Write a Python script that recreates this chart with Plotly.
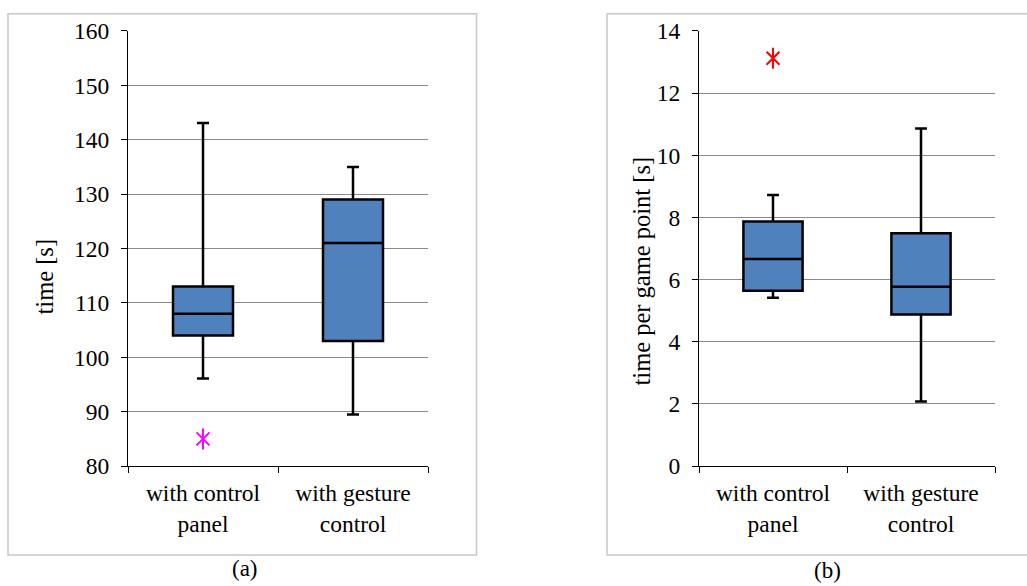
import plotly.graph_objects as go

categories = ["with control<br>panel", "with gesture<br>control"]

a_low = [96.1, 89.5]
a_q1 = [104.0, 103.0]
a_median = [108.0, 121.0]
a_q3 = [113.0, 129.0]
a_high = [143.1, 135.0]
a_outlier_cat = [categories[0]]
a_outlier_val = [85.0]

b_low = [5.42, 2.08]
b_q1 = [5.64, 4.88]
b_median = [6.66, 5.77]
b_q3 = [7.87, 7.49]
b_high = [8.72, 10.86]
b_outlier_cat = [categories[0]]
b_outlier_val = [13.12]

a_ticks = [80, 90, 100, 110, 120, 130, 140, 150, 160]
b_ticks = [0, 2, 4, 6, 8, 10, 12, 14]

FONT = "Liberation Serif, Times New Roman, serif"
W, H = 1027, 600
BOXFILL = "#4F81BD"
GRID = "#8a8a8a"

def py(r):
    # target pixel row -> paper fraction (compensating observed vertical mapping)
    d = (r - 11) / 0.9586
    return 1 - d / H

fig = go.Figure()

def add_box(xa, ya, low, q1, med, q3, high):
    fig.add_trace(go.Box(
        x=categories, q1=q1, median=med, q3=q3,
        lowerfence=low, upperfence=high,
        fillcolor=BOXFILL, line=dict(color="black", width=2.5),
        width=0.4, whiskerwidth=0.2, boxpoints=False,
        showlegend=False, hoverinfo="skip", xaxis=xa, yaxis=ya))

def add_outlier(xa, ya, cats, vals, color):
    for sym in ["x-thin-open", "line-ns-open"]:
        fig.add_trace(go.Scatter(
            x=cats, y=vals, mode="markers",
            marker=dict(symbol=sym, size=13 if sym == "x-thin-open" else 15,
                        color=color, line=dict(color=color, width=2)),
            showlegend=False, hoverinfo="skip", xaxis=xa, yaxis=ya))

add_box("x", "y", a_low, a_q1, a_median, a_q3, a_high)
add_outlier("x", "y", a_outlier_cat, a_outlier_val, "#FF00FF")
add_box("x2", "y2", b_low, b_q1, b_median, b_q3, b_high)
add_outlier("x2", "y2", b_outlier_cat, b_outlier_val, "#FF0000")

ydom = [py(465), py(29)]
tickfont = dict(family=FONT, size=23.5, color="black")

xcommon = dict(type="category", categoryorder="array", categoryarray=categories,
               range=[-0.5, 1.5], tickson="boundaries", ticks="outside",
               ticklen=6, tickcolor="black", showline=True, linecolor="black",
               linewidth=1, showgrid=False, tickfont=tickfont, fixedrange=True,
               ticklabelstandoff=6)
ycommon = dict(showline=True, linecolor="black", linewidth=1, ticks="outside",
               ticklen=6, tickcolor="black", showgrid=True, gridcolor=GRID,
               gridwidth=1, zeroline=False, tickfont=tickfont,
               ticklabelstandoff=7, fixedrange=True)

fig.update_layout(
    width=W, height=H,
    margin=dict(l=0, r=0, t=0, b=0),
    paper_bgcolor="white", plot_bgcolor="white",
    showlegend=False,
    xaxis=dict(domain=[128 / W, 428 / W], anchor="y", **xcommon),
    yaxis=dict(domain=ydom, anchor="x", range=[80, 160], tickvals=a_ticks, **ycommon),
    xaxis2=dict(domain=[699 / W, 995 / W], anchor="y2", **xcommon),
    yaxis2=dict(domain=ydom, anchor="x2", range=[0, 14], tickvals=b_ticks, **ycommon),
)

top_b = min(py(6.3), 1 - 0.8 / H)
fig.add_shape(type="rect", xref="paper", yref="paper",
              x0=8 / W, x1=476.5 / W, y0=py(554), y1=top_b,
              line=dict(color="#c8c8c8", width=1.5), layer="below")
fig.add_shape(type="rect", xref="paper", yref="paper",
              x0=607 / W, x1=1040 / W, y0=py(554), y1=top_b,
              line=dict(color="#c8c8c8", width=1.5), layer="below")

titlefont = dict(family=FONT, size=24.5, color="black")
capfont = dict(family=FONT, size=23, color="black")
fig.add_annotation(text="time [s]", textangle=-90, xref="paper", yref="paper",
                   x=44 / W, y=py(275), showarrow=False, font=titlefont,
                   xanchor="center", yanchor="middle")
fig.add_annotation(text="time per game point [s]", textangle=-90, xref="paper", yref="paper",
                   x=641 / W, y=py(270), showarrow=False, font=titlefont,
                   xanchor="center", yanchor="middle")
fig.add_annotation(text="(a)", xref="paper", yref="paper",
                   x=245 / W, y=py(568), showarrow=False, font=capfont,
                   xanchor="center", yanchor="middle")
fig.add_annotation(text="(b)", xref="paper", yref="paper",
                   x=827 / W, y=py(570), showarrow=False, font=capfont,
                   xanchor="center", yanchor="middle")

fig.write_html("out.html", config={"displayModeBar": False},
               post_script="document.body.style.margin='0';document.body.style.overflow='hidden';")
